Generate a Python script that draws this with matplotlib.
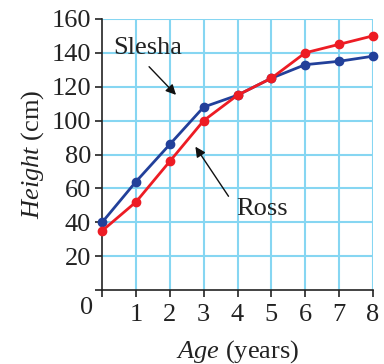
import matplotlib
matplotlib.use("Agg")
import matplotlib.pyplot as plt

ages = [0, 1, 2, 3, 4, 5, 6, 7, 8]
slesha = [40, 64, 86, 108, 115, 125, 133, 135, 138]
ross = [35, 52, 76, 100, 115, 125, 140, 145, 150]
yticks = [0, 20, 40, 60, 80, 100, 120, 140, 160]

plt.rcParams['font.family'] = 'Liberation Serif'
plt.rcParams['mathtext.fontset'] = 'custom'
plt.rcParams['mathtext.rm'] = 'Liberation Serif'
plt.rcParams['mathtext.it'] = 'Liberation Serif:italic'

fs = 19
fig = plt.figure(figsize=(3.84, 3.64), dpi=100)
ax = fig.add_axes([0.266, 0.203, 0.705, 0.745])

grid_col = '#86d6f2'
for a in ages[1:]:
    ax.axvline(a, color=grid_col, lw=1.5, zorder=0)
for v in yticks[1:]:
    ax.axhline(v, color=grid_col, lw=1.5, zorder=0)

ax.plot(ages, slesha, color='#22409a', lw=2.0, marker='o', ms=6, clip_on=False, zorder=3)
ax.plot(ages, ross, color='#ed1c24', lw=2.0, marker='o', ms=6, clip_on=False, zorder=4)

ax.set_xlim(0, 8)
ax.set_ylim(0, 160)
ax.set_xticks(ages)
ax.set_xticklabels([''] + [str(a) for a in ages[1:]])
ax.set_yticks(yticks)
ax.set_yticklabels([''] + [str(v) for v in yticks[1:]])
ax.tick_params(axis='both', direction='out', length=5, width=1.2, labelsize=fs, color='#222222', labelcolor='#222222')
ax.tick_params(axis='x', pad=5)
ax.tick_params(axis='y', pad=3)
for s in ['top', 'right']:
    ax.spines[s].set_visible(False)
for s in ['left', 'bottom']:
    ax.spines[s].set_linewidth(1.2)
    ax.spines[s].set_color('#222222')

ax.text(-0.45, -4, '0', fontsize=fs, ha='center', va='top', color='#222222')

ax.set_xlabel(r'$Age$ (years)', fontsize=fs, color='#222222', labelpad=9)
ax.set_ylabel(r'$Height$ (cm)', fontsize=fs, color='#222222', labelpad=4)

ax.text(1.36, 143, 'Slesha', fontsize=fs, ha='center', va='center', color='#222222')
ax.annotate('', xy=(2.24, 114), xytext=(1.33, 133),
            arrowprops=dict(arrowstyle='-|>', color='#111111', lw=1, mutation_scale=15))
ax.text(4.72, 48, 'Ross', fontsize=fs, ha='center', va='center', color='#222222')
ax.annotate('', xy=(2.71, 86), xytext=(3.78, 54),
            arrowprops=dict(arrowstyle='-|>', color='#111111', lw=1, mutation_scale=15))

fig.savefig('out.png', dpi=100)
